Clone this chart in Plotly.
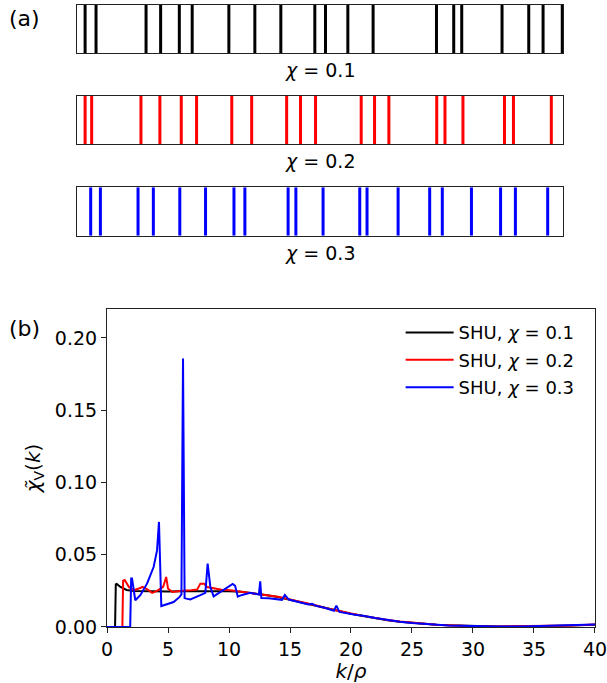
import plotly.graph_objects as go

# ── Data ──────────────────────────────────────────────────────────────────────
# (a) point positions along a line of length L = 20 (rho = 1)
pos_01 = [0.32, 0.77, 2.83, 3.43, 4.20, 4.73, 6.24, 7.31, 8.38, 9.78,
          10.22, 11.14, 12.18, 14.79, 15.50, 15.83, 17.49, 18.59, 19.18, 19.97]
pos_02 = [0.32, 0.59, 2.62, 3.40, 4.28, 4.91, 6.36, 7.18, 8.62, 9.19,
          9.81, 11.69, 12.24, 12.83, 14.80, 15.14, 15.88, 17.59, 17.96, 19.52]
pos_03 = [0.55, 0.95, 2.50, 3.13, 4.22, 5.28, 6.45, 6.90, 8.68, 9.00,
          10.12, 11.63, 11.93, 13.21, 14.51, 15.03, 16.23, 17.43, 18.04, 19.37]
box_length = 20

# (b) spectral density chi_V(k)
k_01 = [0, 0.66, 0.72, 0.8, 1.1, 1.6, 2.2, 3, 4, 5, 6, 7, 8, 9, 10, 11, 12, 13,
        14, 15, 16, 17, 18, 19, 20, 21, 22, 23, 24, 25, 26, 27, 28, 29, 30,
        32, 34, 36, 38, 40]
chi_01 = [0, 0, 0.0295, 0.0298, 0.0277, 0.0256, 0.0249, 0.0247, 0.0246, 0.0246,
          0.0247, 0.0248, 0.0248, 0.0248, 0.0248, 0.0243, 0.0235, 0.0222,
          0.0207, 0.0188, 0.0170, 0.0150, 0.0128, 0.0108, 0.0092, 0.0076,
          0.0060, 0.0047, 0.0037, 0.0029, 0.0022, 0.0016, 0.0012, 0.0009,
          0.0006, 0.0004, 0.0004, 0.0006, 0.0010, 0.0016]

k_02 = [0, 1.26, 1.32, 1.45, 1.8, 2.2, 2.6, 2.9, 3.3, 3.7, 4.1, 4.6, 4.85, 5.0,
        5.35, 5.9, 6.4, 6.9, 7.4, 7.65, 7.95, 8.2, 8.75, 9.4, 10.1, 10.9, 11.75,
        12.5, 13.1, 14, 15, 16, 17, 18, 19, 20, 21, 22, 23, 24, 25, 26, 27, 28,
        29, 30, 32, 34, 36, 38, 40]
chi_02 = [0, 0, 0.0320, 0.0325, 0.0277, 0.0254, 0.0266, 0.0277, 0.0260, 0.0236,
          0.0250, 0.0277, 0.0346, 0.0266, 0.0242, 0.0250, 0.0252, 0.0254,
          0.0260, 0.0300, 0.0300, 0.0277, 0.0266, 0.0258, 0.0254, 0.0245,
          0.0233, 0.0228, 0.0222, 0.0210, 0.0190, 0.0172, 0.0152, 0.0130,
          0.0110, 0.0093, 0.0077, 0.0061, 0.0048, 0.0038, 0.0030, 0.0022,
          0.0016, 0.0012, 0.0008, 0.0006, 0.0004, 0.0005, 0.0007, 0.0011, 0.0018]

k_03 = [0, 1.9, 1.98, 2.05, 2.32, 2.73, 3.28, 3.82, 4.1, 4.26, 4.45, 4.92, 5.46,
        5.95, 6.1, 6.23, 6.36, 6.5, 6.83, 7.65, 8.06, 8.25, 8.47, 8.74, 9.29,
        9.84, 10.3, 10.5, 10.72, 11.07, 11.75, 12.45, 12.56, 12.65, 13.25,
        14.34, 14.58, 14.9, 16.0, 16.5, 16.8, 17.1, 17.9, 18.6, 18.8, 19.05,
        20.35, 21, 22, 23, 24, 25, 26, 27, 28, 29, 30, 32, 34, 36, 38, 40]
chi_03 = [0, 0, 0.0335, 0.0335, 0.0185, 0.0220, 0.0300, 0.0415, 0.0530, 0.0727,
          0.0145, 0.0157, 0.0173, 0.0208, 0.0225, 0.1857, 0.0200, 0.0196,
          0.0190, 0.0220, 0.0236, 0.0438, 0.0277, 0.0212, 0.0242, 0.0277,
          0.0298, 0.0285, 0.0210, 0.0222, 0.0236, 0.0225, 0.0316, 0.0200,
          0.0198, 0.0188, 0.0222, 0.0190, 0.0166, 0.0156, 0.0160, 0.0148,
          0.0131, 0.0112, 0.0148, 0.0104, 0.0085, 0.0078, 0.0062, 0.0048,
          0.0037, 0.0028, 0.0021, 0.0015, 0.0011, 0.0008, 0.0005, 0.0003,
          0.0004, 0.0007, 0.0011, 0.0017]

chi_labels = ["0.1", "0.2", "0.3"]
colours = ["#000000", "#ff0000", "#0000ff"]

FONT = "DejaVu Sans"
AXIS_LINE = "#222"

# ── Figure ────────────────────────────────────────────────────────────────────
fig = go.Figure()

top_domains = [(0.9224, 0.9927), (0.7892, 0.8594), (0.6549, 0.7258)]
positions = [pos_01, pos_02, pos_03]

for i, (pos, colour, dom) in enumerate(zip(positions, colours, top_domains)):
    n = i + 2
    xs, ys = [], []
    for p in pos:
        xs += [p, p, None]
        ys += [0, 1, None]
    fig.add_trace(go.Scatter(
        x=xs, y=ys, mode="lines",
        line=dict(color=colour, width=3),
        xaxis=f"x{n}", yaxis=f"y{n}", showlegend=False, hoverinfo="skip",
    ))
    fig.layout[f"xaxis{n}"] = dict(
        domain=[0.1274, 0.9275], range=[0, box_length], anchor=f"y{n}",
        showticklabels=False, ticks="", showgrid=False, zeroline=False,
        showline=True, mirror=True, linecolor=AXIS_LINE, linewidth=1.2,
        automargin=False,
    )
    fig.layout[f"yaxis{n}"] = dict(
        domain=list(dom), range=[0, 1], anchor=f"x{n}",
        showticklabels=False, ticks="", showgrid=False, zeroline=False,
        showline=True, mirror=True, linecolor=AXIS_LINE, linewidth=1.2,
        automargin=False,
    )
    fig.add_annotation(
        x=0.5 * (0.1274 + 0.9275), y=dom[0] - 0.025, xref="paper", yref="paper",
        text=f"<i>χ</i> = {chi_labels[i]}", showarrow=False,
        font=dict(family=FONT, size=19, color="black"),
        xanchor="center", yanchor="middle",
    )

for k, chi, colour, lab in zip([k_01, k_02, k_03], [chi_01, chi_02, chi_03],
                               colours, chi_labels):
    fig.add_trace(go.Scatter(
        x=k, y=chi, mode="lines",
        line=dict(color=colour, width=2),
        name=f"SHU, <i>χ</i> = {lab}",
        legendgroup=lab,
    ))

# panel letters
for letter, ypx in [("(a)", 19), ("(b)", 329)]:
    fig.add_annotation(x=25 / 607, y=1 - ypx / 683, xref="paper", yref="paper",
                       text=letter, showarrow=False,
                       xanchor="center", yanchor="middle",
                       font=dict(family=FONT, size=22, color="black"))

fig.update_layout(
    width=607, height=683,
    margin=dict(l=0, r=0, t=0, b=0),
    plot_bgcolor="white", paper_bgcolor="white",
    font=dict(family=FONT, size=18, color="black"),
    xaxis=dict(
        domain=[0.1763, 0.9802], range=[0, 40], anchor="y",
        tickvals=[0, 5, 10, 15, 20, 25, 30, 35, 40],
        ticks="outside", ticklen=5, tickwidth=1.2, tickcolor=AXIS_LINE,
        ticklabeloverflow="allow",
        showgrid=False, zeroline=False, automargin=False,
        showline=True, mirror=True, linecolor=AXIS_LINE, linewidth=1.2,
        title=dict(text="<i>k</i>/<i>ρ</i>", standoff=4,
                   font=dict(size=20)),
        tickfont=dict(size=19),
    ),
    yaxis=dict(
        domain=[0.0820, 0.5476], range=[0, 0.22], anchor="x",
        tickvals=[0, 0.05, 0.10, 0.15, 0.20], tickformat=".2f",
        ticks="outside", ticklen=5, tickwidth=1.2, tickcolor=AXIS_LINE,
        showgrid=False, zeroline=False, automargin=False,
        showline=True, mirror=True, linecolor=AXIS_LINE, linewidth=1.2,
        title=dict(text="<i>χ̃</i><sub>V</sub>(<i>k</i>)", standoff=8,
                   font=dict(size=20)),
        tickfont=dict(size=19),
    ),
    legend=dict(
        x=0.66, y=0.54, xanchor="left", yanchor="top",
        bgcolor="rgba(255,255,255,0)", borderwidth=0,
        font=dict(family=FONT, size=18),
        itemwidth=48, tracegroupgap=1,
    ),
)

fig.write_html("out.html", config={"displayModeBar": False},
               post_script="document.body.style.margin='0px';")
